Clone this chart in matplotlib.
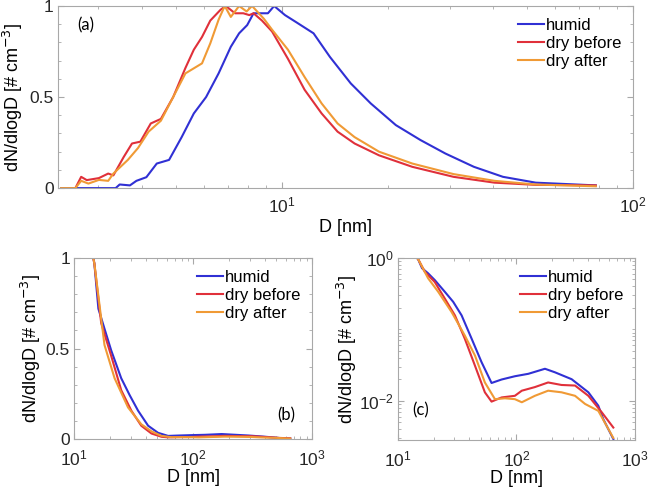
import numpy as np
import matplotlib.pyplot as plt
from matplotlib.ticker import MultipleLocator, LogLocator, NullFormatter

plt.rcParams['font.family'] = ['Liberation Sans', 'DejaVu Sans']
plt.rcParams['font.size'] = 12.5

# colours
c_humid = '#3030d4'
c_before = '#e0303a'
c_after = '#f09a35'

# ---- panel (a): small-mode size distribution, normalised ----
a_humid_d = [2.35, 3.36, 3.45, 3.69, 3.85, 4.11, 4.4, 4.77, 5.18, 5.61, 6.08, 6.6, 7.15, 7.55,
             7.96, 8.3, 9.12, 9.5, 10.2, 11.0, 12.3, 13.7, 15.7, 17.9, 21.1, 24.8, 29.2, 35.2,
             42.6, 52.8, 78.3]
a_humid = [0, 0, 0.02, 0.015, 0.04, 0.06, 0.135, 0.155, 0.28, 0.41, 0.5, 0.63, 0.776, 0.85,
           0.895, 0.96, 0.96, 1.0, 0.95, 0.91, 0.85, 0.72, 0.575, 0.465, 0.346, 0.264, 0.19, 0.117,
           0.062, 0.03, 0.015]

a_before_d = [2.58, 2.68, 2.78, 3.01, 3.2, 3.31, 3.54, 3.74, 3.95, 4.23, 4.52, 4.9, 5.31, 5.61,
              5.92, 6.25, 6.69, 6.92, 7.35, 7.76, 8.07, 8.3, 8.77, 9.37, 10.4, 11.6, 12.97, 14.4,
              16.1, 18.9, 23.5, 30.8, 40.3, 52.7, 78.3]
a_before = [0, 0.062, 0.044, 0.055, 0.08, 0.07, 0.17, 0.245, 0.255, 0.355, 0.38, 0.5, 0.66, 0.76,
            0.83, 0.92, 0.98, 1.0, 0.96, 0.96, 0.95, 0.96, 0.92, 0.86, 0.71, 0.54, 0.41, 0.31,
            0.245, 0.18, 0.117, 0.062, 0.03, 0.018, 0.015]

a_after_d = [2.35, 2.58, 2.68, 2.81, 3.01, 3.2, 3.31, 3.64, 3.89, 4.17, 4.52, 4.9, 5.31, 5.92,
             6.25, 6.6, 6.87, 7.15, 7.55, 7.93, 8.22, 8.88, 9.37, 10.4, 11.6, 12.97, 14.4, 16.1,
             18.9, 23.5, 30.8, 40.3, 52.7, 78.3]
a_after = [0, 0, 0.04, 0.025, 0.045, 0.04, 0.08, 0.155, 0.22, 0.31, 0.37, 0.5, 0.63, 0.685,
           0.795, 0.925, 1.0, 0.94, 1.0, 0.97, 1.0, 0.93, 0.87, 0.76, 0.61, 0.465, 0.355, 0.28,
           0.2, 0.135, 0.077, 0.04, 0.02, 0.01]

# ---- panels (b), (c): larger sizes, normalised ----
bc_humid_d = [14.5, 14.8, 16.0, 18.0, 20.5, 24.9, 29.3, 34.5, 41.9, 50.8, 61.7, 75, 97, 126,
              174, 211, 292, 404, 490, 540, 656]
bc_humid = [1.0, 0.97, 0.72, 0.61, 0.49, 0.336, 0.243, 0.157, 0.074, 0.0347, 0.0177, 0.0198,
            0.022, 0.0238, 0.028, 0.025, 0.020, 0.0131, 0.0085, 0.0055, 0.0029]

bc_before_d = [14.5, 14.8, 16.9, 20.5, 24.9, 30.3, 36.7, 44.7, 54.2, 61.7, 75, 97, 111, 143,
               185, 240, 312, 404, 523, 656]
bc_before = [1.0, 0.97, 0.64, 0.46, 0.27, 0.157, 0.074, 0.031, 0.0131, 0.0097, 0.0111, 0.0117,
             0.0138, 0.0155, 0.018, 0.0166, 0.0163, 0.0117, 0.0069, 0.0042]

bc_after_d = [14.5, 14.8, 18.0, 21.9, 28.4, 36.7, 44.7, 54.2, 65.9, 80, 97, 111, 143, 185, 240,
              312, 379, 490, 656]
bc_after = [1.0, 0.97, 0.52, 0.336, 0.175, 0.082, 0.043, 0.018, 0.0105, 0.0108, 0.0105, 0.0095,
            0.0117, 0.0138, 0.0131, 0.0117, 0.009, 0.0072, 0.003]

labels = ['humid', 'dry before', 'dry after']
ylab = 'dN/dlogD [# cm$^{-3}$]'
spine_col = '#a8a8a8'
tag_font = ['Lato', 'DejaVu Sans']


def style(ax, xpad=5):
    for s in ax.spines.values():
        s.set_color(spine_col)
    ax.tick_params(which='both', direction='in', top=True, right=True, color=spine_col,
                   labelcolor='#262626')
    ax.tick_params(axis='y', pad=3)
    ax.tick_params(axis='x', pad=xpad)
    ax.tick_params(which='major', length=4)
    ax.tick_params(which='minor', length=2.5)


def leg(ax):
    ax.legend(loc='upper right', frameon=False, fontsize=12, handlelength=1.6,
              handletextpad=0.1, labelspacing=0.2, borderaxespad=0.3)


fig = plt.figure(figsize=(6.5, 4.99), dpi=100)

ax1 = fig.add_axes([0.089, 0.623, 0.885, 0.365])
ax1.plot(a_humid_d, a_humid, color=c_humid, lw=1.5, label=labels[0])
ax1.plot(a_before_d, a_before, color=c_before, lw=1.5, label=labels[1])
ax1.plot(a_after_d, a_after, color=c_after, lw=1.5, label=labels[2])
ax1.set_xscale('log')
ax1.set_xlim(2.3, 100)
ax1.set_ylim(0, 1)
ax1.set_yticks([0, 0.5, 1])
ax1.set_yticklabels(['0', '0.5', '1'])
ax1.yaxis.set_minor_locator(MultipleLocator(0.1))
ax1.set_xticks([10, 100])
ax1.xaxis.set_minor_locator(LogLocator(base=10, subs=np.arange(2, 10)))
ax1.xaxis.set_minor_formatter(NullFormatter())
ax1.set_xlabel('D [nm]', fontsize=13, labelpad=3)
ax1.set_ylabel(ylab, fontsize=13, labelpad=3)
ax1.text(0.033, 0.895, '(a)', transform=ax1.transAxes, fontsize=12, va='center',
         family=tag_font)
style(ax1)
leg(ax1)

ax2 = fig.add_axes([0.114, 0.120, 0.366, 0.363])
ax2.plot(bc_humid_d, bc_humid, color=c_humid, lw=1.5, label=labels[0])
ax2.plot(bc_before_d, bc_before, color=c_before, lw=1.5, label=labels[1])
ax2.plot(bc_after_d, bc_after, color=c_after, lw=1.5, label=labels[2])
ax2.set_xscale('log')
ax2.set_xlim(10, 1000)
ax2.set_ylim(0, 1)
ax2.set_yticks([0, 0.5, 1])
ax2.set_yticklabels(['0', '0.5', '1'])
ax2.yaxis.set_minor_locator(MultipleLocator(0.1))
ax2.xaxis.set_minor_locator(LogLocator(base=10, subs=np.arange(2, 10)))
ax2.xaxis.set_minor_formatter(NullFormatter())
ax2.set_xlabel('D [nm]', fontsize=13, labelpad=0)
ax2.set_ylabel(ylab, fontsize=13, labelpad=2)
ax2.text(0.853, 0.13, '(b)', transform=ax2.transAxes, fontsize=12, va='center',
         family=tag_font)
style(ax2, xpad=7)
leg(ax2)

ax3 = fig.add_axes([0.612, 0.118, 0.365, 0.365])
ax3.plot(bc_humid_d, bc_humid, color=c_humid, lw=1.5, label=labels[0])
ax3.plot(bc_before_d, bc_before, color=c_before, lw=1.5, label=labels[1])
ax3.plot(bc_after_d, bc_after, color=c_after, lw=1.5, label=labels[2])
ax3.set_xscale('log')
ax3.set_yscale('log')
ax3.set_xlim(10, 1000)
ax3.set_ylim(0.0028, 1)
ax3.set_yticks([1e-2, 1])
ax3.yaxis.set_minor_locator(LogLocator(base=10, subs=np.arange(1, 10)))
ax3.yaxis.set_minor_formatter(NullFormatter())
ax3.xaxis.set_minor_locator(LogLocator(base=10, subs=np.arange(2, 10)))
ax3.xaxis.set_minor_formatter(NullFormatter())
ax3.set_xlabel('D [nm]', fontsize=13, labelpad=0)
ax3.set_ylabel(ylab, fontsize=13, labelpad=0)
ax3.text(0.06, 0.165, '(c)', transform=ax3.transAxes, fontsize=12, va='center',
         family=tag_font)
style(ax3, xpad=7)
leg(ax3)

fig.savefig('out.png', dpi=100)
